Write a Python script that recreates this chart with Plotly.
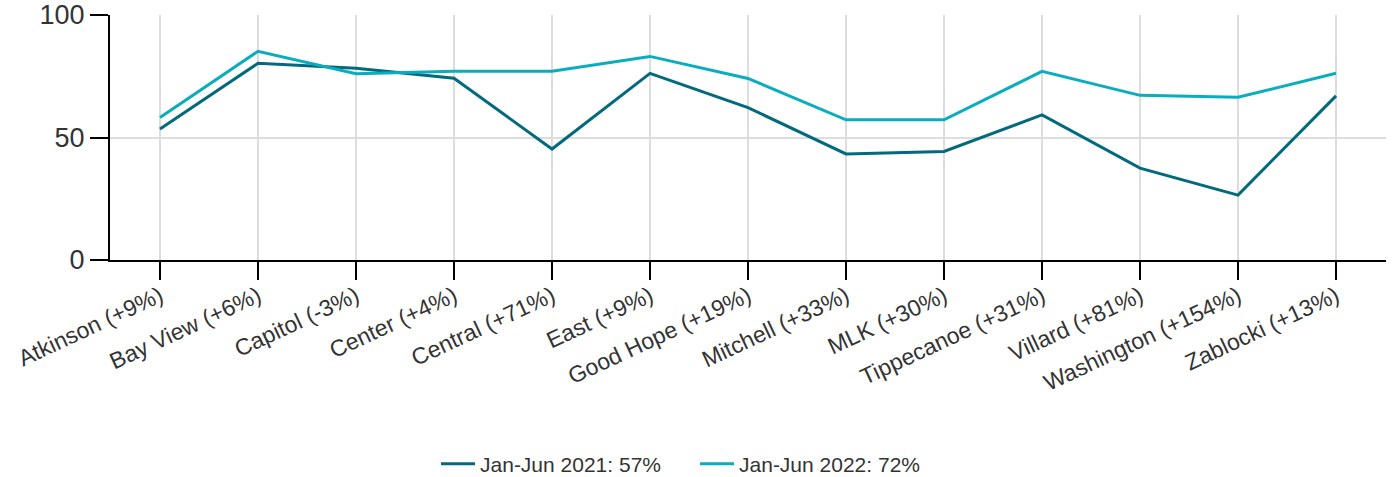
import plotly.graph_objects as go

categories = ["Atkinson (+9%)", "Bay View (+6%)", "Capitol (-3%)", "Center (+4%)",
              "Central (+71%)", "East (+9%)", "Good Hope (+19%)", "Mitchell (+33%)",
              "MLK (+30%)", "Tippecanoe (+31%)", "Villard (+81%)", "Washington (+154%)",
              "Zablocki (+13%)"]
values_2021 = [53.5, 80.3, 78.3, 74.2, 45.3, 76.2, 62.2, 43.3, 44.3, 59.2, 37.5, 26.5, 67.0]
values_2022 = [58.2, 85.2, 76.0, 77.0, 77.0, 83.1, 74.1, 57.2, 57.2, 77.0, 67.2, 66.4, 76.2]
series_names = ["Jan-Jun 2021: 57%", "Jan-Jun 2022: 72%"]
y_ticks = [0, 50, 100]

fig = go.Figure()
fig.add_trace(go.Scatter(x=list(range(len(categories))), y=values_2021, mode="lines",
                         name=series_names[0], line=dict(color="#036A7E", width=3)))
fig.add_trace(go.Scatter(x=list(range(len(categories))), y=values_2022, mode="lines",
                         name=series_names[1], line=dict(color="#0AADBE", width=3)))

fig.update_layout(
    width=1393, height=477,
    margin=dict(l=110, r=7, t=15, b=217, autoexpand=False),
    plot_bgcolor="white", paper_bgcolor="white",
    font=dict(family="Liberation Sans, Arial, sans-serif", color="#333333"),
    legend=dict(orientation="h", x=0.2555, xanchor="left", y=-0.833, yanchor="middle",
                font=dict(size=21, color="#333333"), itemwidth=34,
                entrywidth=210, entrywidthmode="pixels"),
    showlegend=True,
)
fig.update_xaxes(
    tickmode="array", tickvals=list(range(len(categories))), ticktext=categories,
    range=[-0.51, 12.51], tickangle=-25, automargin=False, ticklabelstandoff=-6,
    showgrid=True, gridcolor="#DDDDDD", gridwidth=2,
    showline=True, linecolor="black", linewidth=2,
    ticks="outside", ticklen=18, tickwidth=2, tickcolor="black",
    tickfont=dict(size=23, color="#333333"), zeroline=False,
)
fig.update_yaxes(
    range=[0, 100], tickvals=y_ticks, automargin=False, ticklabeloverflow="allow",
    showgrid=True, gridcolor="#DDDDDD", gridwidth=2,
    showline=True, linecolor="black", linewidth=2,
    ticks="outside", ticklen=18, tickwidth=2, tickcolor="black",
    tickfont=dict(size=27, color="#333333"), zeroline=False,
)

fig.write_html("out.html", config={"displayModeBar": False},
               post_script="document.body.style.margin='0';document.body.style.padding='0';")
